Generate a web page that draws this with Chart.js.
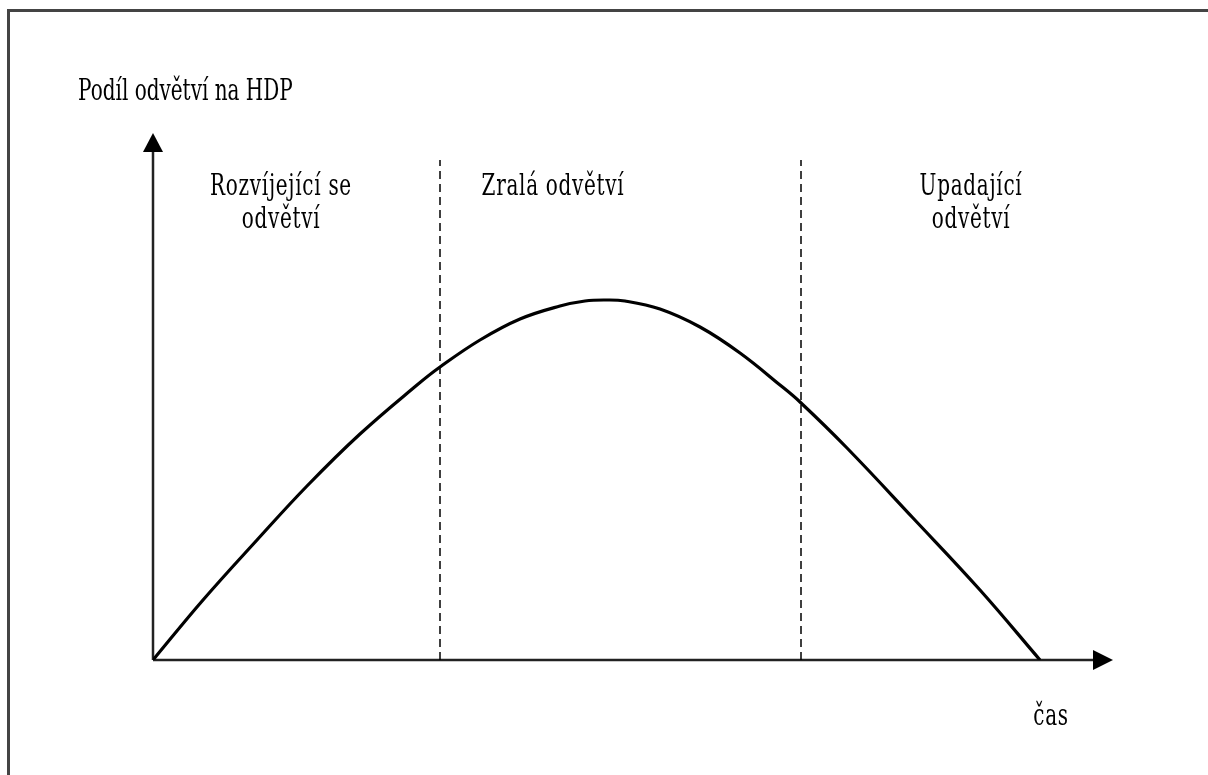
<!DOCTYPE html>
<html>
<head>
<meta charset="utf-8">
<script src="https://cdn.jsdelivr.net/npm/chart.js@4/dist/chart.umd.min.js"></script>
<style>
  html, body { margin: 0; padding: 0; background: #fff; overflow: hidden; }
  canvas { display: block; }
</style>
</head>
<body>
<canvas id="chart" width="1208" height="775"></canvas>
<script>
// curve (time units / share units, origin at the axes corner)
const timePoints = [0, 50, 104, 154, 207, 264, 287, 327, 367, 407, 432, 452, 472, 507, 547, 587, 627, 647, 694, 760, 827, 887];
const shareValues = [0, 60, 120, 174, 226, 275, 293, 320, 341, 354, 359, 360, 359, 351, 333, 307, 275, 258, 212, 142, 70, 0];

// dashed boundaries between the phases
const phaseBoundaries = [287, 648];
const boundaryTop = 500;

const yAxisTitle = 'Podíl odvětví na HDP';
const xAxisTitle = 'čas';
const phaseLabels = [
  ['Rozvíjející se', 'odvětví'],
  ['Zralá odvětví'],
  ['Upadající', 'odvětví'],
];

const TEXT_FONT = '20px "DejaVu Serif"';
const STRETCH = 1.45;

function stretchedText(ctx, text, x, y, align, spacing) {
  ctx.save();
  ctx.font = TEXT_FONT;
  ctx.letterSpacing = spacing + 'px';
  ctx.fillStyle = '#000';
  ctx.textAlign = align;
  ctx.textBaseline = 'alphabetic';
  ctx.scale(1, STRETCH);
  ctx.fillText(text, x, y / STRETCH);
  ctx.restore();
}

const axesPlugin = {
  id: 'axesArrows',
  beforeDraw(chart) {
    // picture frame, only its top and left edges fall inside the image
    const { ctx } = chart;
    ctx.save();
    ctx.strokeStyle = '#444';
    ctx.lineWidth = 3;
    ctx.beginPath();
    ctx.moveTo(8.5, chart.height);
    ctx.lineTo(8.5, 10.5);
    ctx.lineTo(chart.width, 10.5);
    ctx.stroke();
    ctx.restore();
  },
  beforeDatasetsDraw(chart) {
    const { ctx, chartArea: a } = chart;
    ctx.save();
    ctx.strokeStyle = '#222';
    ctx.fillStyle = '#000';
    ctx.lineWidth = 2.5;
    ctx.beginPath();
    ctx.moveTo(a.left, a.bottom);
    ctx.lineTo(a.left, a.top + 18);
    ctx.moveTo(a.left, a.bottom);
    ctx.lineTo(a.right - 18, a.bottom);
    ctx.stroke();
    // arrow heads
    ctx.beginPath();
    ctx.moveTo(a.left, a.top);
    ctx.lineTo(a.left - 10, a.top + 19);
    ctx.lineTo(a.left + 10, a.top + 19);
    ctx.closePath();
    ctx.fill();
    ctx.beginPath();
    ctx.moveTo(a.right, a.bottom);
    ctx.lineTo(a.right - 20, a.bottom - 10);
    ctx.lineTo(a.right - 20, a.bottom + 10);
    ctx.closePath();
    ctx.fill();
    ctx.restore();
  },
  afterDraw(chart) {
    const { ctx } = chart;
    stretchedText(ctx, yAxisTitle, 78, 100, 'left', 0);
    stretchedText(ctx, xAxisTitle, 1051, 725, 'center', 0.7);
    const centers = [281, 553, 971];
    phaseLabels.forEach((lines, i) => {
      lines.forEach((line, j) => {
        stretchedText(ctx, line, centers[i], 195 + j * 33, 'center', 0.7);
      });
    });
  },
};

const curveData = timePoints.map((t, i) => ({ x: t, y: shareValues[i] }));
const boundaryDatasets = phaseBoundaries.map(b => ({
  data: [{ x: b, y: 0 }, { x: b, y: boundaryTop }],
  borderColor: '#000',
  borderWidth: 1.5,
  borderDash: [8, 5],
  pointRadius: 0,
  showLine: true,
}));

new Chart(document.getElementById('chart'), {
  type: 'scatter',
  data: {
    datasets: [
      {
        data: curveData,
        borderColor: '#000',
        borderWidth: 3.2,
        pointRadius: 0,
        showLine: true,
        tension: 0.4,
      },
      ...boundaryDatasets,
    ],
  },
  options: {
    responsive: false,
    animation: false,
    layout: { padding: { left: 153, right: 95, top: 133, bottom: 115 } },
    plugins: { legend: { display: false }, tooltip: { enabled: false } },
    scales: {
      x: { type: 'linear', min: 0, max: 960, display: false },
      y: { min: 0, max: 527, display: false },
    },
  },
  plugins: [axesPlugin],
});
</script>
</body>
</html>
